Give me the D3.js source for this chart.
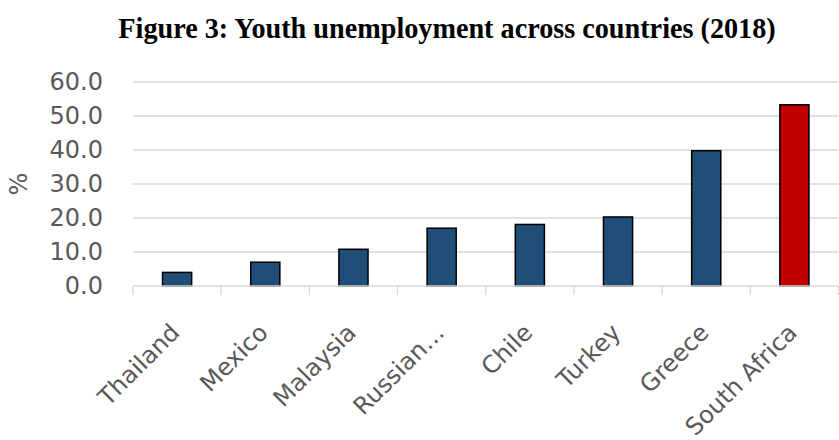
<!DOCTYPE html>
<html><head><meta charset="utf-8">
<script src="https://cdn.jsdelivr.net/npm/d3@7"></script>
<style>body{margin:0;background:#fff}svg{display:block}</style>
</head><body>
<svg id="chart" width="839" height="440"></svg>
<script>
const categories = ["Thailand","Mexico","Malaysia","Russian…","Chile","Turkey","Greece","South Africa"];
const values = [4.0, 7.0, 10.8, 17.0, 18.1, 20.3, 39.8, 53.3];
const barColors = ["#1f4e79","#1f4e79","#1f4e79","#1f4e79","#1f4e79","#1f4e79","#1f4e79","#c00000"];
const yTicks = [0,10,20,30,40,50,60];
const titleText = "Figure 3: Youth unemployment across countries (2018)";
const yLabel = "%";

const svg = d3.select("#chart");
const mLeft = 133, mRight = 838.5, mTop = 82, mBottom = 286;
const x = d3.scaleBand().domain(categories).range([mLeft, mRight]).paddingInner(0.67).paddingOuter(0.335);
const y = d3.scaleLinear().domain([0,60]).range([mBottom, mTop]);
const font = "'DejaVu Sans', sans-serif";
const fs = 24;

svg.append("text").attr("transform","translate(447,38) scale(0.94,1)").attr("text-anchor","middle")
  .attr("font-family","'Liberation Serif','Times New Roman',serif").attr("font-weight","bold")
  .attr("font-size", 30).attr("fill","#000").text(titleText);

// gridlines
svg.append("g").selectAll("line").data(yTicks.filter(d=>d>0)).join("line")
  .attr("x1", mLeft).attr("x2", mRight).attr("y1", d=>y(d)).attr("y2", d=>y(d))
  .attr("stroke","#d9d9d9").attr("stroke-width",1.3);

// y axis labels
const yAxis = svg.append("g").attr("transform",`translate(${mLeft},0)`)
  .call(d3.axisLeft(y).tickValues(yTicks).tickFormat(d3.format(".1f")).tickSize(0).tickPadding(30));
yAxis.select(".domain").remove();
yAxis.selectAll("text").attr("font-family",font).attr("font-size",fs).attr("fill","#595959");

svg.append("text").attr("transform",`translate(19,${y(30)}) rotate(-90)`).attr("text-anchor","middle")
  .attr("dy","0.35em").attr("font-family",font).attr("font-size",fs).attr("fill","#595959").text(yLabel);

// bars
svg.append("g").selectAll("rect").data(categories).join("rect")
  .attr("x", d=>x(d)).attr("width", x.bandwidth())
  .attr("y", (d,i)=>y(values[i])).attr("height",(d,i)=>mBottom - y(values[i]))
  .attr("fill",(d,i)=>barColors[i]).attr("stroke","#000").attr("stroke-width",1.5);

// x axis
const step = x.step();
const bounds = d3.range(categories.length+1).map(i=>mLeft + i*step);
svg.append("line").attr("x1",mLeft).attr("x2",mRight).attr("y1",mBottom).attr("y2",mBottom)
  .attr("stroke","#d9d9d9").attr("stroke-width",1.3);
svg.append("g").selectAll("line").data(bounds).join("line")
  .attr("x1",d=>d).attr("x2",d=>d).attr("y1",mBottom).attr("y2",mBottom+9)
  .attr("stroke","#d9d9d9").attr("stroke-width",1.3);

svg.append("g").selectAll("text").data(categories).join("text")
  .attr("transform", d=>`translate(${x(d)+x.bandwidth()/2+4},${mBottom+48}) rotate(-45)`)
  .attr("text-anchor","end")
  .attr("font-family",font).attr("font-size",fs).attr("fill","#595959").text(d=>d);
</script>
</body></html>
